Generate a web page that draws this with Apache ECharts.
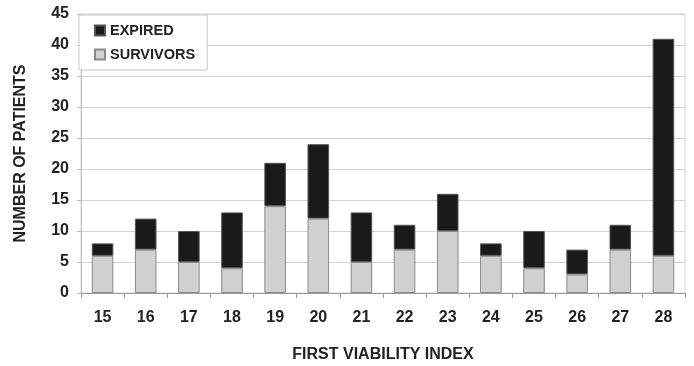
<!DOCTYPE html>
<html><head><meta charset="utf-8">
<script src="https://cdn.jsdelivr.net/npm/echarts@6/dist/echarts.min.js"></script>
<style>html,body{margin:0;padding:0;background:#fff}#c{width:694px;height:366px}</style>
</head><body><div id="c"></div>
<script>
const categories = ['15','16','17','18','19','20','21','22','23','24','25','26','27','28'];
const survivors = [6,7,5,4,14,12,5,7,10,6,4,3,7,6];
const expired = [2,5,5,9,7,12,8,4,6,2,6,4,4,35];
const font = 'Liberation Sans, Arial, sans-serif';
const chart = echarts.init(document.getElementById('c'), null, {renderer:'canvas'});
chart.setOption({
  animation:false,
  backgroundColor:'#fff',
  grid:{left:81,right:9,top:14,bottom:73,show:true,borderColor:'#d4d4d4',borderWidth:1,
        containLabel:false,outerBoundsMode:'none'},
  legend:{
    left:79, top:15, orient:'vertical', itemGap:9,
    padding:[8,12,8,15],
    backgroundColor:'#fff', borderColor:'#c8c8c8', borderWidth:1,
    itemWidth:10, itemHeight:10, icon:'rect',
    textStyle:{fontFamily:font,fontWeight:'bold',fontSize:14.5,color:'#222'},
    data:[{name:'EXPIRED'},{name:'SURVIVORS'}]
  },
  xAxis:{
    type:'category', data:categories,
    name:'FIRST VIABILITY INDEX', nameLocation:'middle', nameGap:54,
    nameTextStyle:{fontFamily:font,fontWeight:'bold',fontSize:16,color:'#222'},
    axisLine:{lineStyle:{color:'#9a9a9a'}},
    axisTick:{show:true,length:5,lineStyle:{color:'#9a9a9a'}},
    axisLabel:{fontFamily:font,fontWeight:'bold',fontSize:16,color:'#222',margin:17}
  },
  yAxis:{
    type:'value', min:0, max:45, interval:5,
    name:'NUMBER OF PATIENTS', nameLocation:'middle', nameGap:52, nameRotate:90,
    nameTextStyle:{fontFamily:font,fontWeight:'bold',fontSize:16,color:'#222'},
    axisLine:{show:true,lineStyle:{color:'#bdbdbd'}},
    axisTick:{show:true,length:4,lineStyle:{color:'#bdbdbd'}},
    splitLine:{lineStyle:{color:'#d4d4d4'}},
    axisLabel:{fontFamily:font,fontWeight:'bold',fontSize:16,color:'#222',margin:12}
  },
  series:[
    {name:'SURVIVORS',type:'bar',stack:'t',data:survivors,barWidth:'50%',
     itemStyle:{color:'#d0d0d0',borderColor:'#8a8a8a',borderWidth:1}},
    {name:'EXPIRED',type:'bar',stack:'t',data:expired,barWidth:'50%',
     itemStyle:{color:'#1a1a1a',borderColor:'#555',borderWidth:1}}
  ]
});
</script></body></html>
